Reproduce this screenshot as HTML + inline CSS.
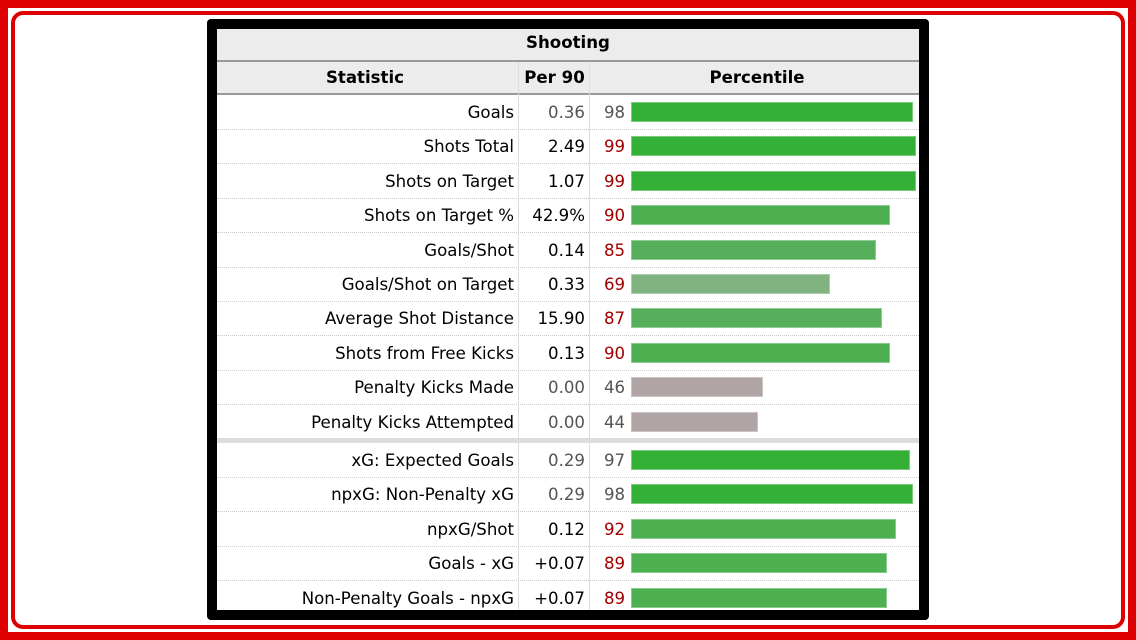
<!DOCTYPE html>
<html><head><meta charset="utf-8"><style>
body{margin:0;width:1136px;height:640px;background:#fff;position:relative;overflow:hidden;font-family:"DejaVu Sans","Liberation Sans",sans-serif;}
.frame{position:absolute;left:0;top:0;width:1120px;height:624px;border:8px solid #dd0000;}
.frame2{position:absolute;left:11px;top:11px;width:1106px;height:610px;border:4px solid #dd0000;border-radius:12px;}
.box{position:absolute;left:207px;top:19px;width:722px;height:601px;background:#000;border-radius:4px;}
.tbl{position:absolute;left:217px;top:29px;width:702px;height:581px;background:#fff;}
.t{position:absolute;font-size:16.6px;white-space:nowrap;}
</style></head><body>
<div class="frame"></div>
<div class="frame2"></div>
<div class="box"></div>
<div class="tbl" id="tbl">
 <div style="position:absolute;left:0;top:0;width:702px;height:31px;background:#ececec;border-bottom:2px solid #999;"></div>
 <div class="t" style="left:0;width:702px;text-align:center;top:4px;font-weight:bold;">Shooting</div>
 <div style="position:absolute;left:0;top:33px;width:702px;height:31px;background:#ececec;border-bottom:2px solid #999;"></div>
 <div class="t" style="left:0;width:296px;text-align:center;top:39px;font-weight:bold;">Statistic</div>
 <div class="t" style="left:302px;width:71px;text-align:center;top:39px;font-weight:bold;">Per 90</div>
 <div class="t" style="left:373px;width:334px;text-align:center;top:39px;font-weight:bold;">Percentile</div>
 <div style="position:absolute;left:301px;top:33px;width:1px;height:548px;background:#ddd;"></div>
 <div style="position:absolute;left:372px;top:33px;width:1px;height:548px;background:#ddd;"></div>
</div>
<script>
const stats=["Goals","Shots Total","Shots on Target","Shots on Target %","Goals/Shot","Goals/Shot on Target","Average Shot Distance","Shots from Free Kicks","Penalty Kicks Made","Penalty Kicks Attempted","xG: Expected Goals","npxG: Non-Penalty xG","npxG/Shot","Goals - xG","Non-Penalty Goals - npxG"];
const per90=["0.36","2.49","1.07","42.9%","0.14","0.33","15.90","0.13","0.00","0.00","0.29","0.29","0.12","+0.07","+0.07"];
const pct=[98,99,99,90,85,69,87,90,46,44,97,98,92,89,89];
const grayVal=[true,false,false,false,false,false,false,false,true,true,true,true,false,false,false];
const grayPct=[true,false,false,false,false,false,false,false,true,true,true,true,false,false,false];
const tbl=document.getElementById('tbl');
function barColor(p){if(p>=95)return '#33b035';if(p>=88)return '#4caf50';if(p>=80)return '#56b05b';if(p>=60)return '#80b380';return '#b0a4a4';}
function rowTop(i){return i<10?66+i*34.4:414+(i-10)*34.4;}
function barW(p){return p*2.88;}
for(let i=0;i<stats.length;i++){
 const y=rowTop(i);
 if(i!==9&&i!==14){const l=document.createElement('div');
 
 
 l.style.cssText=`position:absolute;left:0;top:${y+34}px;width:702px;border-top:1px dotted #ccc;`;tbl.appendChild(l);}
 const a=document.createElement('div');a.className='t';
 
 
 a.style.cssText=`left:0;width:297px;text-align:right;top:${y+8}px;`;a.textContent=stats[i];tbl.appendChild(a);
 const b=document.createElement('div');b.className='t';
 
 
 b.style.cssText=`left:302px;width:66px;text-align:right;top:${y+8}px;color:${grayVal[i]?'#555':'#000'}`;b.textContent=per90[i];tbl.appendChild(b);
 const c=document.createElement('div');c.className='t';
 
 
 c.style.cssText=`left:387px;top:${y+8}px;color:${grayPct[i]?'#555':'#a00000'}`;c.textContent=pct[i];tbl.appendChild(c);
 const r=document.createElement('div');
 
 
 r.style.cssText=`position:absolute;left:414px;top:${y+7}px;height:20px;width:${barW(pct[i])}px;background:${barColor(pct[i])};box-shadow:inset 0 0 0 1px rgba(255,255,255,0.35);`;tbl.appendChild(r);
}
const s=document.createElement('div');


s.style.cssText='position:absolute;left:0;top:409px;width:702px;height:5px;background:#ddd;';tbl.appendChild(s);
</script>
</body></html>
